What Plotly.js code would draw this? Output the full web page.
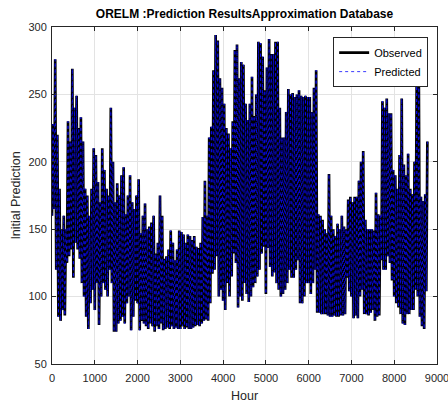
<!DOCTYPE html>
<html>
<head>
<meta charset="utf-8">
<script src="https://cdn.plot.ly/plotly-3.0.1.min.js"></script>
<style>html,body{margin:0;padding:0;background:#fff;}#chart{width:448px;height:403px;}</style>
</head>
<body>
<div id="chart"></div>
<script>
// Hour sampling step of the envelope readings (hours)
const hourStep = 50;
// Upper envelope (peak load) read every 50 hours, starting at hour 0
const observedPeak = [
  228,276,220,180,150,160,150,230,215,269,240,249,225,233,215,180,175,160,180,210,
  205,185,170,210,194,180,175,240,200,170,184,175,190,196,161,175,190,170,165,175,
  187,147,160,169,150,152,155,160,132,140,175,160,128,130,135,149,140,127,135,149,
  148,146,140,146,145,142,145,137,136,140,159,186,160,218,226,268,294,290,262,255,
  243,225,221,210,230,283,287,262,274,272,243,231,243,263,234,250,289,288,278,253,
  270,291,280,280,289,289,240,218,218,237,254,250,251,248,250,253,249,248,249,248,
  248,237,255,268,161,160,157,150,147,191,160,150,145,154,150,160,152,150,172,174,
  170,174,174,186,200,208,157,150,150,150,149,177,161,160,245,240,247,236,236,194,
  190,180,205,247,198,190,206,180,176,200,261,262,174,171,176,215
];
// Lower envelope (trough load) read every 50 hours, starting at hour 0
const observedTrough = [
  160,165,120,85,82,90,86,125,130,135,114,140,135,128,110,100,85,76,95,105,
  90,110,79,100,110,105,100,120,110,74,74,80,82,85,80,95,100,75,85,97,
  95,75,82,80,78,76,80,78,74,78,76,80,75,76,77,76,78,76,77,76,
  76,78,76,77,76,76,77,78,79,78,80,82,83,82,95,117,120,130,100,105,
  97,90,110,100,115,132,125,92,100,97,110,102,96,100,107,110,115,120,132,137,
  102,136,122,115,118,110,105,100,102,105,110,120,114,114,120,127,95,95,100,110,
  110,102,110,120,88,88,87,87,87,86,85,85,86,85,85,86,86,87,114,104,
  100,84,86,84,100,105,87,87,86,88,90,82,85,86,127,120,120,130,125,112,
  100,95,92,87,80,79,87,87,90,90,105,100,85,78,76,104
];
// Predicted series follows the observed readings (they overlap in the picture)
const predictedPeak = observedPeak.slice();
const predictedTrough = observedTrough.slice();

const xTickVals = [0,1000,2000,3000,4000,5000,6000,7000,8000,9000];
const yTickVals = [50,100,150,200,250,300];

function buildSeries(peak, trough) {
  const x = [], y = [];
  for (let i = 0; i < peak.length; i++) {
    x.push(i * hourStep); y.push(trough[i]);
    x.push(i * hourStep + hourStep / 2); y.push(peak[i]);
  }
  return {x, y};
}
const obs = buildSeries(observedPeak, observedTrough);
const pred = buildSeries(predictedPeak, predictedTrough);

const font = "'Liberation Sans', Arial, Helvetica, sans-serif";
const traces = [
  {x: obs.x, y: obs.y, type: 'scatter', mode: 'lines', name: 'Observed',
   line: {color: '#000000', width: 2.7}},
  {x: pred.x, y: pred.y, type: 'scatter', mode: 'lines', name: 'Predicted',
   line: {color: 'rgba(10,10,255,0.8)', width: 1, dash: 'dot'}}
];
const axisCommon = {
  showline: true, linecolor: '#262626', linewidth: 1, mirror: 'ticks',
  ticks: 'inside', ticklen: 4, tickcolor: '#262626',
  showgrid: true, gridcolor: '#e3e3e3', gridwidth: 1, zeroline: false,
  ticklabeloverflow: 'allow',
  tickfont: {family: font, size: 11, color: '#262626'}
};
const layout = {
  width: 448, height: 403,
  margin: {l: 52, r: 11, t: 27, b: 39},
  paper_bgcolor: '#ffffff', plot_bgcolor: '#ffffff',
  font: {family: font},
  title: {text: '<b>ORELM :Prediction ResultsApproximation Database</b>',
          font: {family: font, size: 12, color: '#000000'},
          x: 0.5 + (52 - 11) / 2 / 448, xanchor: 'center', y: 0.965, yanchor: 'middle'},
  xaxis: Object.assign({}, axisCommon, {
    range: [0, 9000], tickvals: xTickVals, ticklabelstandoff: 4,
    title: {text: 'Hour', font: {family: font, size: 12.5, color: '#262626'}, standoff: 9}
  }),
  yaxis: Object.assign({}, axisCommon, {
    range: [50, 300], tickvals: yTickVals, ticklabelstandoff: 2,
    title: {text: 'Initial Prediction', font: {family: font, size: 12.5, color: '#262626'}, standoff: 5}
  }),
  showlegend: true,
  legend: {x: 0.977, y: 0.97, xanchor: 'right', yanchor: 'top',
           bgcolor: '#ffffff', bordercolor: '#262626', borderwidth: 1,
           font: {family: font, size: 11, color: '#000000'},
           tracegroupgap: 0, itemwidth: 30}
};
Plotly.newPlot('chart', traces, layout, {displayModeBar: false, staticPlot: true});
</script>
</body>
</html>
